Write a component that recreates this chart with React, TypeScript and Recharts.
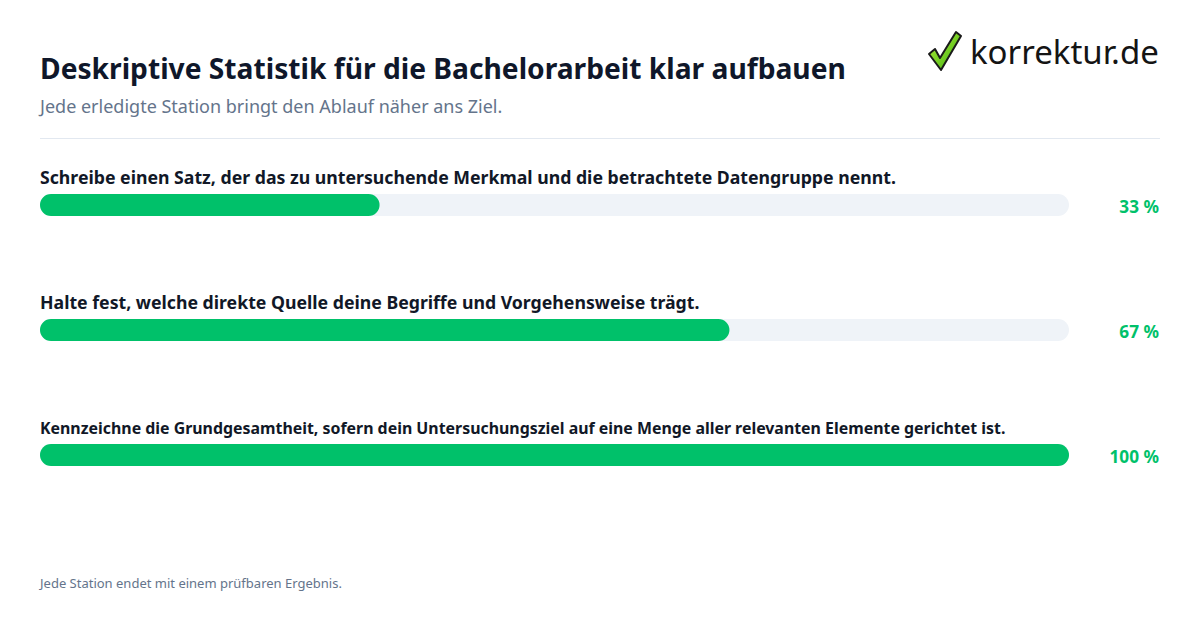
import React from "react";
import { BarChart, Bar, XAxis, YAxis, LabelList } from "recharts";

const steps = [
  "Schreibe einen Satz, der das zu untersuchende Merkmal und die betrachtete Datengruppe nennt.",
  "Halte fest, welche direkte Quelle deine Begriffe und Vorgehensweise trägt.",
  "Kennzeichne die Grundgesamtheit, sofern dein Untersuchungsziel auf eine Menge aller relevanten Elemente gerichtet ist.",
];
const progress = [33, 67, 100];

const title = "Deskriptive Statistik für die Bachelorarbeit klar aufbauen";
const subtitle = "Jede erledigte Station bringt den Ablauf näher ans Ziel.";
const footer = "Jede Station endet mit einem prüfbaren Ergebnis.";

const data = steps.map((name, i) => ({ name, value: progress[i] }));

const FONT = "'Noto Sans', 'Open Sans', sans-serif";
const GREEN = "#00c16a";
const DARK = "#111827";
const MUTED = "#64748b";

// long labels are shrunk to fit the track width
const labelSize = (s: string) => (s.length > 100 ? 15.9 : 17.7);

const NameLabel = (props: any) => {
  const { x, y, value } = props;
  return (
    <text x={x} y={y - 10} fill={DARK} fontSize={labelSize(String(value))} fontWeight={700} fontFamily={FONT}>
      {value}
    </text>
  );
};

const PctLabel = (props: any) => {
  const { y, height, value } = props;
  return (
    <text
      x={1159}
      y={y + height / 2 + 2}
      dy="0.35em"
      textAnchor="end"
      fill={GREEN}
      fontSize={17.2}
      fontWeight={700}
      fontFamily={FONT}
    >
      {value} %
    </text>
  );
};

const Logo = () => (
  <svg width={240} height={50} style={{ position: "absolute", left: 925, top: 28 }}>
    <defs>
      <linearGradient id="chk" x1="0" y1="0" x2="1" y2="1">
        <stop offset="0%" stopColor="#b6f23a" />
        <stop offset="100%" stopColor="#3cae10" />
      </linearGradient>
    </defs>
    <path
      d="M4 26 L10 21 L15 30 L31 4 L36 8 L16 42 Z"
      fill="url(#chk)"
      stroke="#1a1a1a"
      strokeWidth={2}
      strokeLinejoin="round"
    />
    <text x={45} y={36} fontSize={33} fontFamily={FONT} fill="#141414">
      korrektur.de
    </text>
  </svg>
);

export default function App() {
  return (
    <div
      style={{
        position: "absolute",
        left: 0,
        top: 0,
        width: 1200,
        height: 630,
        background: "#ffffff",
        fontFamily: FONT,
        overflow: "hidden",
      }}
    >
      <div
        style={{
          position: "absolute",
          left: 40,
          top: 48,
          fontSize: 28.2,
          fontWeight: 700,
          color: "#0f172a",
          whiteSpace: "nowrap",
          lineHeight: "40px",
        }}
      >
        {title}
      </div>
      <div
        style={{
          position: "absolute",
          left: 40,
          top: 94,
          fontSize: 18,
          color: MUTED,
          whiteSpace: "nowrap",
          lineHeight: "24px",
        }}
      >
        {subtitle}
      </div>
      <div
        style={{
          position: "absolute",
          left: 40,
          top: 138,
          width: 1120,
          height: 1,
          background: "#e2e8f0",
        }}
      />
      <Logo />
      <div style={{ position: "absolute", left: 0, top: 0 }}>
        <BarChart
          width={1200}
          height={630}
          data={data}
          layout="vertical"
          margin={{ top: 142, right: 131, bottom: 113, left: 40 }}
          barCategoryGap={0}
        >
          <XAxis type="number" domain={[0, 100]} hide />
          <YAxis type="category" dataKey="name" hide />
          <Bar
            dataKey="value"
            fill={GREEN}
            barSize={22}
            radius={11}
            background={{ fill: "#eff3f8", radius: 11 }}
            isAnimationActive={false}
          >
            <LabelList dataKey="name" content={<NameLabel />} />
            <LabelList dataKey="value" content={<PctLabel />} />
          </Bar>
        </BarChart>
      </div>
      <div
        style={{
          position: "absolute",
          left: 40,
          top: 574,
          fontSize: 13,
          color: MUTED,
          whiteSpace: "nowrap",
          lineHeight: "18px",
        }}
      >
        {footer}
      </div>
    </div>
  );
}
